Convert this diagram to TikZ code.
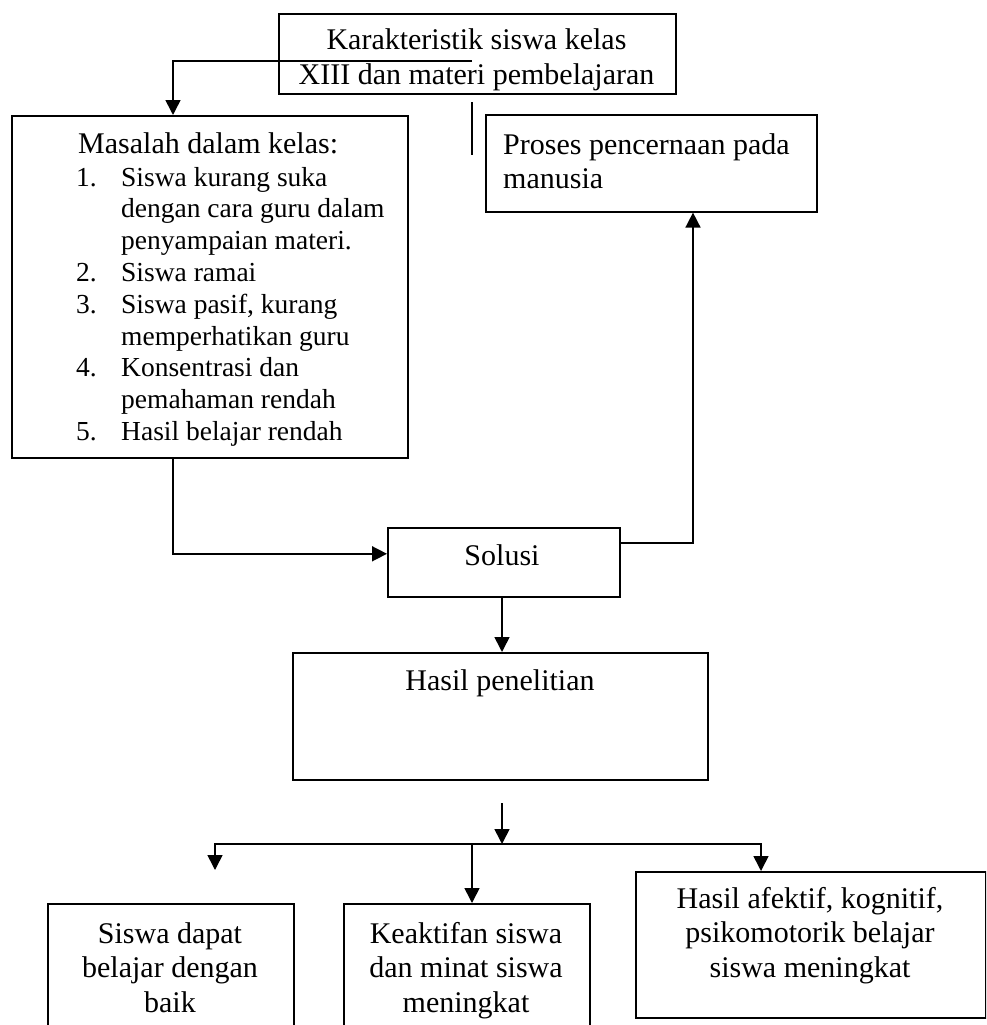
\documentclass[tikz,border=0pt]{standalone}
\usepackage{fontspec}
\setmainfont{Liberation Serif}
\usetikzlibrary{arrows.meta,calc}
\begin{document}
\begin{tikzpicture}[x=1pt,y=-1pt,
  box/.style={draw, line width=1.6pt, inner sep=0pt, anchor=north west},
  txt/.style={inner sep=0pt, font=\fontsize{30}{34.5}\selectfont},
  small/.style={inner sep=0pt, font=\fontsize{27.5}{31.8}\selectfont},
  arr/.style={line width=1.6pt, -{Triangle[length=15pt,width=15pt]}},
  ln/.style={line width=1.6pt}]
\useasboundingbox (0,0) rectangle (986,1025);
\fill[white] (0,0) rectangle (986,1025);
\clip (0,0) rectangle (986,1025);

% boxes
\node[box, minimum width=397pt, minimum height=80pt] (top) at (278,13) {};
\begin{scope}
  \clip (278,13) rectangle (675,93);
  \node[txt, anchor=base] (toptext) at (476.5,50) {\begin{tabular}[t]{@{}c@{}}Karakteristik siswa kelas\\XIII dan materi pembelajaran\end{tabular}};
\end{scope}

\node[box, minimum width=396pt, minimum height=342pt] (masalah) at (11,115) {};
\node[txt, anchor=base west] (mtitle) at (78,153) {Masalah dalam kelas:};
\node[small, anchor=base west] (mlist) at (76,186) {\begin{tabular}[t]{@{}l@{}}%
\makebox[45pt][l]{1.}Siswa kurang suka\\
\makebox[45pt][l]{}dengan cara guru dalam\\
\makebox[45pt][l]{}penyampaian materi.\\
\makebox[45pt][l]{2.}Siswa ramai\\
\makebox[45pt][l]{3.}Siswa pasif, kurang\\
\makebox[45pt][l]{}memperhatikan guru\\
\makebox[45pt][l]{4.}Konsentrasi dan\\
\makebox[45pt][l]{}pemahaman rendah\\
\makebox[45pt][l]{5.}Hasil belajar rendah\end{tabular}};

\node[box, minimum width=331pt, minimum height=97pt] (proses) at (485,114) {};
\node[txt, anchor=base west] (ptext) at (503,154) {\begin{tabular}[t]{@{}l@{}}Proses pencernaan pada\\manusia\end{tabular}};

\node[box, minimum width=232pt, minimum height=69pt] (solusi) at (387,527) {};
\node[txt, anchor=base] (stext) at (502,565) {Solusi};

\node[box, minimum width=415pt, minimum height=127pt] (hasil) at (292,652) {};
\node[txt, anchor=base] (htext) at (500,690) {Hasil penelitian};

\node[box, minimum width=246pt, minimum height=150pt] (siswa) at (47,903) {};
\node[txt, anchor=base] (sitext) at (170,943) {\begin{tabular}[t]{@{}c@{}}Siswa dapat\\belajar dengan\\baik\end{tabular}};

\node[box, minimum width=246pt, minimum height=150pt] (keaktifan) at (343,903) {};
\node[txt, anchor=base] (ktext) at (466,943) {\begin{tabular}[t]{@{}c@{}}Keaktifan siswa\\dan minat siswa\\meningkat\end{tabular}};

\node[box, minimum width=350pt, minimum height=146pt] (afektif) at (635,871) {};
\node[txt, anchor=base] (atext) at (810,908) {\begin{tabular}[t]{@{}c@{}}Hasil afektif, kognitif,\\psikomotorik belajar\\siswa meningkat\end{tabular}};

% connectors
\coordinate (c1) at (472,61);
\draw[arr] (c1) -| ([xshift=162pt]masalah.north west);
\coordinate (s1) at (472,102);
\coordinate (s2) at (472,155);
\draw[ln] (s1) -- (s2);
\draw[arr] ([xshift=162pt]masalah.south west) |- ([yshift=8.5pt]solusi.west);
\draw[arr] ([yshift=19.5pt]solusi.east) -| ([xshift=208pt]proses.south west);
\draw[arr] ([xshift=115pt]solusi.south west) -- ([xshift=210pt]hasil.north west);
\coordinate (c2) at (502,803);
\coordinate (c3) at (502,844);
\draw[arr] (c2) -- (c3);
\coordinate (cl) at (215,870);
\draw[arr] (c3) -| (cl);
\draw[arr] (c3) -| ([xshift=126pt]afektif.north west);
\coordinate (cm) at (472,844);
\draw[arr] (cm) -- ([xshift=129pt]keaktifan.north west);
\end{tikzpicture}
\end{document}
